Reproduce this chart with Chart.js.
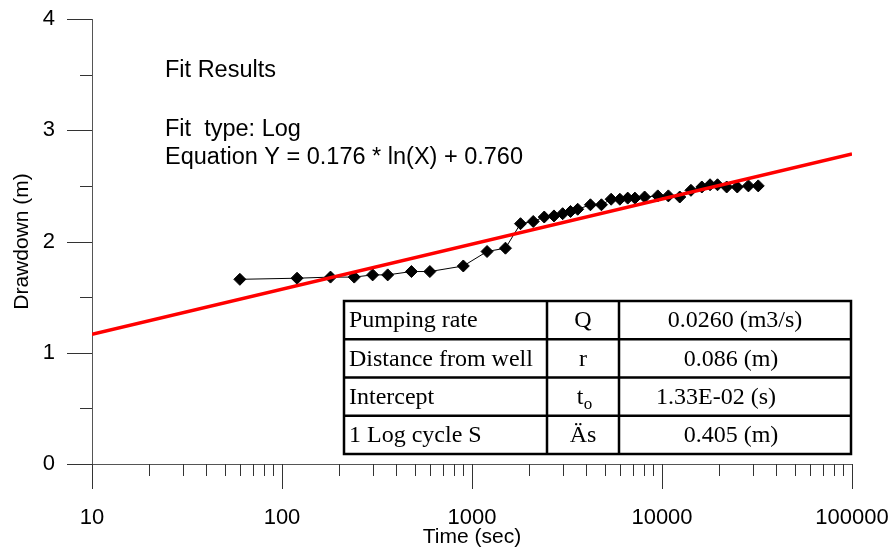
<!DOCTYPE html>
<html>
<head>
<meta charset="utf-8">
<script src="https://cdn.jsdelivr.net/npm/chart.js@4.4.1/dist/chart.umd.min.js"></script>
<style>
  html, body { margin: 0; padding: 0; background: #fff; }
  #wrap { width: 888px; height: 548px; }
</style>
</head>
<body>
<div id="wrap"><canvas id="drawdownChart" width="888" height="548"></canvas></div>
<script>
// observed drawdown vs time
const timeSec = [60, 120, 180, 240, 300, 360, 480, 600, 900, 1200, 1500, 1800, 2100, 2400, 2700, 3000,
  3300, 3600, 4200, 4800, 5400, 6000, 6600, 7200, 8100, 9500, 10800, 12400, 14200, 16200, 17900,
  19600, 21900, 24900, 28500, 32100];
const drawdownM = [1.66, 1.67, 1.68, 1.68, 1.70, 1.70, 1.73, 1.73, 1.78, 1.91, 1.94, 2.16, 2.18, 2.22, 2.23, 2.25,
  2.27, 2.29, 2.33, 2.33, 2.38, 2.38, 2.39, 2.39, 2.40, 2.41, 2.41, 2.40, 2.46, 2.49, 2.51,
  2.51, 2.49, 2.49, 2.50, 2.50];

// fitted line end points (Y = 0.176 ln X + 0.760)
const fitX = [10, 100000];
const fitY = [1.165, 2.786];

// axis ticks
const xMajorTicks = [10, 100, 1000, 10000, 100000];
const yMajorTicks = [0, 1, 2, 3, 4];
const yMinorTicks = [0.5, 1.5, 2.5, 3.5];

// text notes
const fitNotes = ["Fit Results", "", "Fit  type: Log", "Equation Y = 0.176 * ln(X) + 0.760"];
const tableRows = [
  ["Pumping rate", "Q", "0.0260 (m3/s)"],
  ["Distance from well", "r", "0.086 (m)"],
  ["Intercept", "t", "1.33E-02 (s)"],
  ["1 Log cycle S", "Äs", "0.405 (m)"]
];

const sansFont = "'Liberation Sans', Arial, sans-serif";
const serifFont = "'Liberation Serif', 'Times New Roman', serif";

function xMinorTicks() {
  let out = [];
  for (let d = 10; d < 100000; d *= 10) {
    for (let m = 2; m <= 9; m++) out.push(d * m);
  }
  return out;
}

const extras = {
  id: "extras",
  afterDraw(chart) {
    const ctx = chart.ctx;
    const xs = chart.scales.x, ys = chart.scales.y;
    const area = chart.chartArea;
    ctx.save();
    ctx.strokeStyle = "#333";
    ctx.lineWidth = 1;
    ctx.beginPath();
    yMajorTicks.forEach(v => {
      let p = Math.round(ys.getPixelForValue(v)) + 0.5;
      ctx.moveTo(area.left - 25, p); ctx.lineTo(area.left, p);
    });
    yMinorTicks.forEach(v => {
      let p = Math.round(ys.getPixelForValue(v)) + 0.5;
      ctx.moveTo(area.left - 12, p); ctx.lineTo(area.left, p);
    });
    xMajorTicks.forEach(v => {
      let p = Math.round(xs.getPixelForValue(v)) + 0.5;
      ctx.moveTo(p, area.bottom); ctx.lineTo(p, area.bottom + 25);
    });
    xMinorTicks().forEach(v => {
      let p = Math.round(xs.getPixelForValue(v)) + 0.5;
      ctx.moveTo(p, area.bottom); ctx.lineTo(p, area.bottom + 12);
    });
    ctx.stroke();

    // fit notes
    ctx.fillStyle = "#000";
    ctx.font = "23.5px " + sansFont;
    ctx.textBaseline = "middle";
    ctx.textAlign = "left";
    const noteY = [71, 100, 130, 158];
    fitNotes.forEach((t, i) => ctx.fillText(t, 165, noteY[i]));

    // parameter table
    const colX = [344, 547, 619, 851];
    const top = 301, rowH = 38.25;
    ctx.lineWidth = 2.5;
    ctx.strokeStyle = "#000";
    ctx.strokeRect(colX[0], top, colX[3] - colX[0], rowH * tableRows.length);
    ctx.beginPath();
    for (let i = 1; i < tableRows.length; i++) {
      ctx.moveTo(colX[0], top + rowH * i); ctx.lineTo(colX[3], top + rowH * i);
    }
    ctx.moveTo(colX[1], top); ctx.lineTo(colX[1], top + rowH * tableRows.length);
    ctx.moveTo(colX[2], top); ctx.lineTo(colX[2], top + rowH * tableRows.length);
    ctx.stroke();

    const tf = "24px " + serifFont;
    ctx.font = tf;
    const valueCenter = [735, 731, 716, 731];
    tableRows.forEach((row, i) => {
      const cy = top + rowH * i + rowH / 2 + 1;
      ctx.textAlign = "left";
      ctx.fillText(row[0], 349, cy);
      ctx.textAlign = "center";
      if (row[1] === "t") {
        ctx.fillText("t", 580, cy);
        ctx.font = "17px " + serifFont;
        ctx.fillText("o", 588, cy + 7);
        ctx.font = tf;
      } else {
        ctx.fillText(row[1], (colX[1] + colX[2]) / 2, cy);
      }
      ctx.fillText(row[2], valueCenter[i], cy);
    });
    ctx.restore();
  }
};

new Chart(document.getElementById("drawdownChart"), {
  type: "line",
  data: {
    datasets: [
      {
        label: "Observed",
        data: timeSec.map((t, i) => ({ x: t, y: drawdownM[i] })),
        borderColor: "#000",
        borderWidth: 1,
        pointStyle: "rectRot",
        pointRadius: 6,
        pointBackgroundColor: "#000",
        pointBorderColor: "#000",
        pointBorderWidth: 1,
        tension: 0,
        order: 2
      },
      {
        label: "Fit",
        data: fitX.map((t, i) => ({ x: t, y: fitY[i] })),
        borderColor: "#ff0000",
        borderWidth: 3.5,
        pointRadius: 0,
        tension: 0,
        order: 1
      }
    ]
  },
  options: {
    responsive: false,
    animation: false,
    layout: { padding: { top: 19, right: 36, left: 10, bottom: 0 } },
    plugins: { legend: { display: false }, tooltip: { enabled: false } },
    scales: {
      x: {
        type: "logarithmic",
        min: 10,
        max: 100000,
        grid: { display: false },
        border: { display: true, color: "#555", width: 1 },
        afterBuildTicks: (s) => { s.ticks = xMajorTicks.map(v => ({ value: v })); },
        afterFit: (s) => { s.height = 84; s.paddingLeft = 0; s.paddingRight = 0; },
        ticks: {
          autoSkip: false,
          maxRotation: 0,
          padding: 33,
          color: "#000",
          font: { family: sansFont, size: 22 },
          callback: (v) => String(v)
        },
        title: {
          display: true,
          text: "Time (sec)",
          color: "#000",
          font: { family: sansFont, size: 21, lineHeight: 1 },
          padding: 0
        }
      },
      y: {
        min: 0,
        max: 4,
        grid: { display: false },
        border: { display: true, color: "#555", width: 1 },
        afterBuildTicks: (s) => { s.ticks = yMajorTicks.map(v => ({ value: v })); },
        afterFit: (s) => { s.width = 82; s.paddingTop = 0; s.paddingBottom = 0; },
        ticks: {
          padding: 29,
          color: "#000",
          font: { family: sansFont, size: 22 }
        },
        title: {
          display: true,
          text: "Drawdown (m)",
          color: "#000",
          font: { family: sansFont, size: 21 },
          padding: 0
        }
      }
    }
  },
  plugins: [extras]
});
</script>
</body>
</html>
